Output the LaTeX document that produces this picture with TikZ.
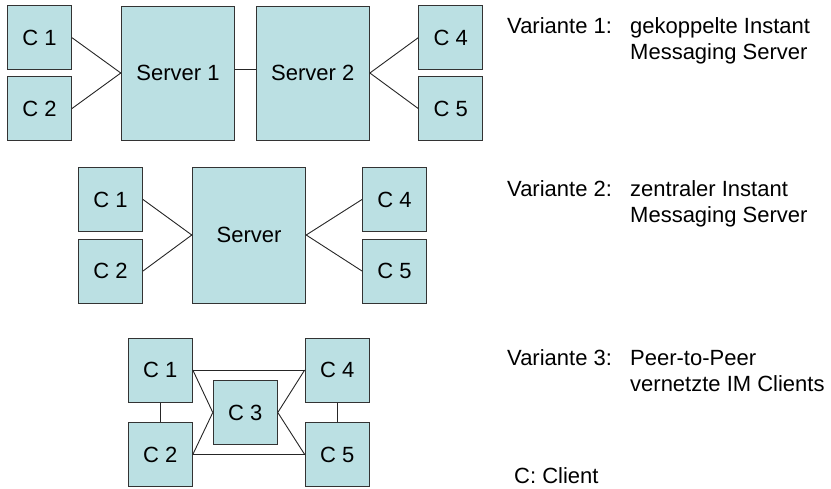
\documentclass[tikz,border=0pt]{standalone}
\usepackage{fontspec}
\setmainfont{Liberation Sans}
\begin{document}
\begin{tikzpicture}[x=1pt,y=-1pt,
  box/.style={draw=black!80, fill=boxfill, line width=1pt, inner sep=0pt,
    font=\fontsize{22}{26.5}\selectfont},
  client/.style={box, minimum width=64pt, minimum height=64pt},
  server/.style={box, minimum width=113.4pt, minimum height=135pt},
  link/.style={draw=black!85, line width=0.9pt},
  label/.style={anchor=base west, inner sep=0pt, font=\fontsize{22}{26.5}\selectfont}]
\definecolor{boxfill}{HTML}{BBE0E3}
\useasboundingbox (0,0) rectangle (831,488);

% Variante 1: two coupled servers
\node[client] (a1) at (39.5,37.7) {C 1};
\node[client] (a2) at (39.5,108.5) {C 2};
\node[server, minimum height=134pt] (s1) at (178,73) {Server 1};
\node[server, minimum height=134pt] (s2) at (312.7,73) {Server 2};
\node[client] (a4) at (450.7,37.7) {C 4};
\node[client] (a5) at (450.7,108.5) {C 5};
\draw[link] (a1.east) -- (s1.west);
\draw[link] (a2.east) -- (s1.west);
\draw[link] ([yshift=3.5pt]s1.east) -- ([yshift=3.5pt]s2.west);
\draw[link] (s2.east) -- (a4.west);
\draw[link] (s2.east) -- (a5.west);

% Variante 2: one central server
\node[client] (b1) at (110.5,199.5) {C 1};
\node[client] (b2) at (110.5,271) {C 2};
\node[server, minimum height=136pt] (sv) at (249,235) {Server};
\node[client] (b4) at (394.5,199.5) {C 4};
\node[client] (b5) at (394.5,271) {C 5};
\draw[link] (b1.east) -- (sv.west);
\draw[link] (b2.east) -- (sv.west);
\draw[link] (sv.east) -- (b4.west);
\draw[link] (sv.east) -- (b5.west);

% Variante 3: peer-to-peer clients
\node[client] (p1) at (160.3,370) {C 1};
\node[client] (p2) at (160.3,454.5) {C 2};
\node[client] (p3) at (245.3,412.5) {C 3};
\node[client] (p4) at (337.2,370) {C 4};
\node[client] (p5) at (337.2,454.5) {C 5};
\draw[link] (p1.south) -- (p2.north);
\draw[link] (p4.south) -- (p5.north);
\draw[link] (p1.east) -- (p4.west);
\draw[link] (p2.east) -- (p5.west);
\draw[link] (p1.east) -- (p3.west);
\draw[link] (p2.east) -- (p3.west);
\draw[link] (p3.east) -- (p4.west);
\draw[link] (p3.east) -- (p5.west);

% Legend texts
\node[label] (v1) at (507,33) {Variante 1:};
\node[label] (v1a) at (630,33) {gekoppelte Instant};
\node[label] (v1b) at (630,59.5) {Messaging Server};
\node[label] (v2) at (507,196) {Variante 2:};
\node[label] (v2a) at (630,196) {zentraler Instant};
\node[label] (v2b) at (630,222.5) {Messaging Server};
\node[label] (v3) at (507,365) {Variante 3:};
\node[label] (v3a) at (630,365) {Peer-to-Peer};
\node[label] (v3b) at (630,391.5) {vernetzte IM Clients};
\node[label] (cl) at (514,483) {C: Client};
\end{tikzpicture}
\end{document}
